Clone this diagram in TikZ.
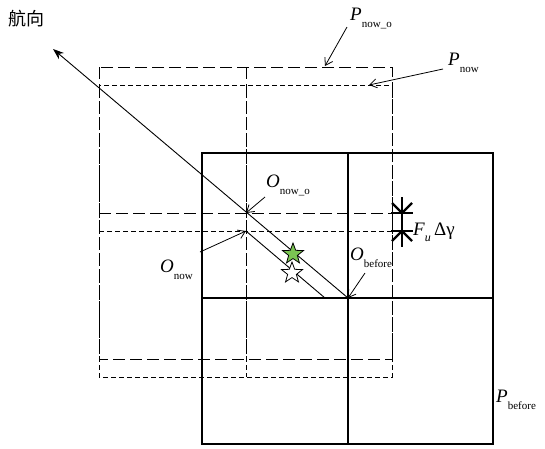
\documentclass[tikz,border=0pt]{standalone}
\usepackage{fontspec}
\setmainfont{Liberation Serif}
\newfontfamily\cjk{Noto Sans CJK SC}
\usetikzlibrary{shapes.geometric,arrows.meta}
\definecolor{stargreen}{RGB}{122,196,82}
\newcommand\mylab[2]{\textit{#1}\raisebox{-7pt}{\fontsize{11}{11}\selectfont #2}}
\begin{document}
\begin{tikzpicture}[x=1pt,y=-1pt,
  thickline/.style={line width=2.4pt},
  longdash/.style={line width=0.9pt, dash pattern=on 12pt off 5pt},
  shortdash/.style={line width=0.9pt, dash pattern=on 5pt off 3pt},
  thin/.style={line width=0.9pt},
  lbl/.style={inner sep=0pt, anchor=base west, font=\fontsize{19}{19}\selectfont},
  ptr/.style={line width=0.8pt, -{Straight Barb[length=7pt,width=9pt]}},
  headarrow/.style={line width=0.9pt, -{Stealth[length=11pt,width=8pt]}},
  starshape/.style={star, star points=5, star point ratio=2.4, minimum size=22pt, inner sep=0pt, draw=black, line width=0.8pt}
]
\useasboundingbox (0,0) rectangle (545,448);
% key points
\coordinate (Onowo) at (246,213);
\coordinate (Onow) at (246,231);
\coordinate (Obefore) at (348,298);
\coordinate (tip) at (53,49);
% P_before (thick solid)
\draw[thickline] (202,153) rectangle (493,444);
\draw[thickline] (348,153) -- (348,444);
\draw[thickline] (202,298) -- (493,298);
% P_now_o (long dashed)
\draw[longdash] (99,67) rectangle (392,359);
\draw[longdash] (246,67) -- (246,359);
\draw[longdash] (99,213) -- (392,213);
% P_now (short dashed)
\draw[shortdash] (99,85) rectangle (392,377);
\draw[shortdash] (246,85) -- (246,377);
\draw[shortdash] (99,231) -- (392,231);
% heading
\draw[headarrow] (Obefore) -- (tip);
\coordinate (lowend) at (325,298);
\draw[thin] (Onow) -- (lowend);
% stars
\node[starshape, fill=stargreen] (s1) at (293,254) {};
\node[starshape, fill=white] (s2) at (292,273) {};
% F_u marker
\draw[thickline] (402,197) -- (402,247);
\draw[thickline] (391,213) -- (413,213);
\draw[thickline] (391,231) -- (413,231);
\draw[thickline] (392,203) -- (402,213) -- (412,203);
\draw[thickline] (392,241) -- (402,231) -- (412,241);
% labels
\node[inner sep=0pt, font=\cjk\fontsize{18}{18}\selectfont] (hx) at (27,19) {航向};
\node[lbl] (pnowo) at (350,20) {\mylab{P}{now\_o}};
\node[lbl] (pnow) at (448,65) {\mylab{P}{now}};
\node[lbl] (onowo) at (266,187) {\mylab{O}{now\_o}};
\node[lbl] (obef) at (350,260) {\mylab{O}{before}};
\node[lbl] (onow) at (160,272) {\mylab{O}{now}};
\node[lbl] (pbef) at (496,402) {\mylab{P}{before}};
\node[lbl] (fu) at (413,235) {\textit{F}\raisebox{-6pt}{\fontsize{12}{12}\selectfont\textit{u}}\,Δγ};
% pointer arrows
\coordinate (a1) at (347,27);
\coordinate (a1e) at (325,66);
\draw[ptr] (a1) -- (a1e);
\coordinate (a2) at (443,69);
\coordinate (a2e) at (369,85);
\draw[ptr] (a2) -- (a2e);
\coordinate (a3) at (265,197);
\draw[ptr] (a3) -- (Onowo);
\coordinate (a4) at (365,273);
\draw[ptr] (a4) -- (Obefore);
\coordinate (a5) at (200,252);
\draw[ptr] (a5) -- (Onow);
\end{tikzpicture}
\end{document}
